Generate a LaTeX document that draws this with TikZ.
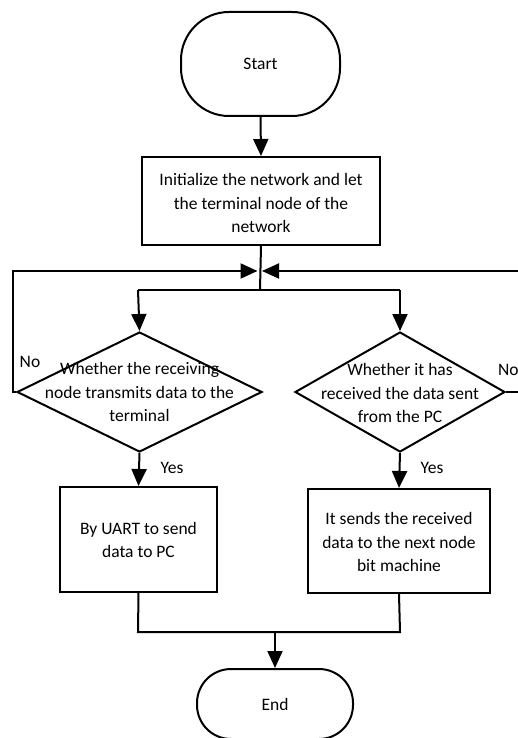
\documentclass[tikz,border=0pt]{standalone}
\usepackage{fontspec}
\setmainfont{Carlito}
\usetikzlibrary{arrows.meta,shapes.geometric,calc}
\begin{document}
\begin{tikzpicture}[x=1pt,y=-1pt,
  line width=2pt,
  arr/.style={-{Triangle[length=17pt,width=15pt]}},
  termbox/.style={draw,rounded corners=#1,inner sep=0pt},
  procbox/.style={draw,inner sep=0pt},
  decbox/.style={draw,diamond,inner sep=0pt,aspect=2},
  txt/.style={align=center,font=\fontsize{17.5}{23.5}\selectfont,inner sep=0pt},
  lbl/.style={font=\fontsize{17.5}{19}\selectfont,inner sep=0pt}]
\clip (0,0) rectangle (518,738);
\fill[white] (0,0) rectangle (518,738);
% nodes
\node[termbox=48pt,minimum width=159pt,minimum height=104pt] (start) at (260.5,64) {};
\node[txt] (starttxt) at (260.5,64) {Start};
\node[procbox,minimum width=238pt,minimum height=88pt] (init) at (261,201) {};
\node[txt] (inittxt) at (261,203) {Initialize the network and let\\the terminal node of the\\network};
\node[decbox,minimum width=245pt,minimum height=120pt] (d1) at (139.5,392) {};
\node[txt] (d1txt) at (139.5,392) {Whether the receiving\\node transmits data to the\\terminal};
\node[decbox,minimum width=210pt,minimum height=120pt] (d2) at (400,392) {};
\node[txt] (d2txt) at (400,393) {Whether it has\\received the data sent\\from the PC};
\node[procbox,minimum width=157pt,minimum height=105pt] (b1) at (138.5,539.5) {};
\node[txt] (b1txt) at (138.5,540) {By UART to send\\data to PC};
\node[procbox,minimum width=182pt,minimum height=104pt] (b2) at (399,541) {};
\node[txt] (b2txt) at (399,542) {It sends the received\\data to the next node\\bit machine};
\node[termbox=34pt,minimum width=156pt,minimum height=70pt] (end) at (275,704) {};
\node[txt] (endtxt) at (275,704) {End};
% coordinates
\coordinate (j) at (260,271);
\coordinate (split) at (260,290);
\coordinate (sl) at (138,290);
\coordinate (sr) at (400,290);
\coordinate (lc) at (13,392);
\coordinate (lt) at (13,271);
\coordinate (rc) at (526,392);
\coordinate (rt) at (526,271);
\coordinate (ml) at (138,632);
\coordinate (mr) at (400,632);
\coordinate (mm) at (275,632);
% connectors
\draw[arr] (start.south) -- (init.north);
\draw (init.south) -- (split);
\draw (sl) -- (sr);
\draw[arr] (sl) -- (d1.north);
\draw[arr] (sr) -- (d2.north);
\draw[arr] (d1.west) -- (lc) -- (lt) -- ([xshift=-2.5pt]j);
\draw[arr] (d2.east) -- (rc) -- (rt) -- ([xshift=2pt]j);
\draw[arr] (d1.south) -- (b1.north);
\draw[arr] (d2.south) -- (b2.north);
\draw (b1.south) -- (ml) -- (mr) -- (b2.south);
\draw[arr] (mm) -- (end.north);
% labels
\node[lbl] (no1) at (30,362) {No};
\node[lbl,anchor=west] (no2) at (497,370) {No};
\node[lbl] (yes1) at (172,468) {Yes};
\node[lbl] (yes2) at (432,468) {Yes};
\end{tikzpicture}
\end{document}
